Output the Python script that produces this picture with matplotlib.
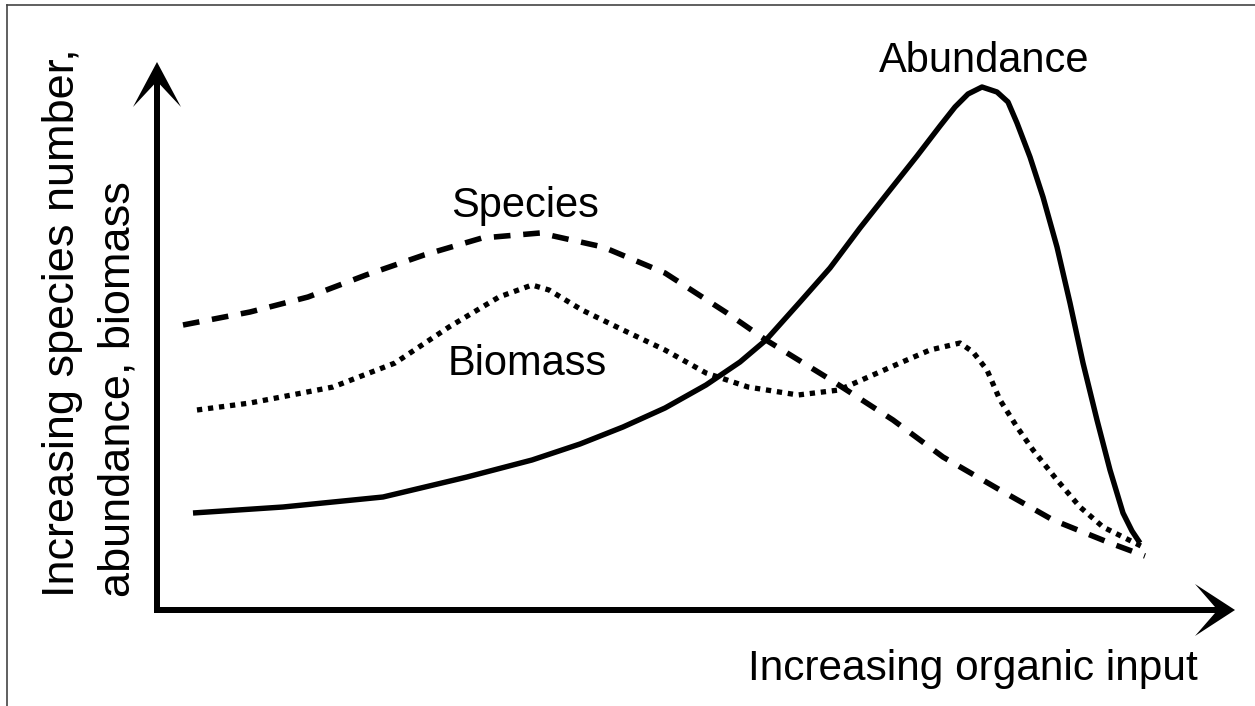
import matplotlib.pyplot as plt
from matplotlib.lines import Line2D

plt.rcParams['font.family'] = ['Liberation Sans', 'DejaVu Sans']

# organic input (arbitrary units) and the three responses
abundance_x = [0.36, 1.26, 2.26, 3.10, 3.75, 4.23, 4.66, 5.08, 5.49, 5.83, 6.09, 6.43,
               6.73, 7.03, 7.33, 7.60, 7.83, 7.98, 8.11, 8.25, 8.40, 8.51, 8.60, 8.73,
               8.86, 9.00, 9.13, 9.26, 9.40, 9.53, 9.66, 9.75, 9.83]
abundance_y = [1.94, 2.06, 2.26, 2.66, 3.00, 3.32, 3.66, 4.04, 4.50, 4.96, 5.40, 6.16,
               6.84, 7.64, 8.40, 9.08, 9.68, 10.06, 10.32, 10.46, 10.36, 10.16, 9.74, 9.06,
               8.26, 7.26, 6.14, 4.94, 3.80, 2.80, 1.94, 1.58, 1.34]

species_x = [0.26, 0.93, 1.51, 2.09, 2.67, 3.25, 3.83, 4.46, 5.08, 5.70, 6.09, 6.74,
             7.36, 7.86, 8.43, 8.96, 9.53, 9.88]
species_y = [5.70, 5.96, 6.26, 6.70, 7.10, 7.44, 7.54, 7.26, 6.74, 5.94, 5.40, 4.60,
             3.80, 3.06, 2.40, 1.80, 1.34, 1.08]

biomass_x = [0.40, 0.93, 1.76, 2.38, 2.92, 3.42, 3.75, 3.92, 4.25, 4.66, 5.08, 5.49,
             5.91, 6.41, 6.82, 7.43, 7.73, 8.03, 8.16, 8.30, 8.43, 8.60, 8.76, 9.00,
             9.23, 9.46, 9.66, 9.86]
biomass_y = [4.00, 4.14, 4.46, 4.94, 5.66, 6.26, 6.50, 6.40, 6.00, 5.60, 5.20, 4.74,
             4.46, 4.30, 4.40, 4.94, 5.20, 5.34, 5.16, 4.80, 4.20, 3.66, 3.20, 2.60,
             2.06, 1.66, 1.46, 1.26]

fig = plt.figure(figsize=(12.55, 7.06), dpi=100)
ax = fig.add_axes([0, 0, 1, 1])
ax.set_xlim(-1.57, 10.98)
ax.set_ylim(-1.92, 12.2)
ax.axis('off')

ax.plot(abundance_x, abundance_y, color='black', lw=3.9, solid_capstyle='butt',
        solid_joinstyle='round')
ax.plot(species_x, species_y, color='black', lw=4.0, linestyle=(0, (3.0, 2.3)),
        dash_capstyle='butt')
ax.plot(biomass_x, biomass_y, color='black', lw=3.8, linestyle=(0, (1.0, 1.1)),
        dash_capstyle='butt')

# axes drawn as barbed arrows
ax.arrow(0, -0.06, 0, 11.02, width=0.06, head_width=0.48, head_length=0.9,
         overhang=0.5, length_includes_head=True, color='black', lw=0)
ax.arrow(-0.03, 0, 10.81, 0, width=0.12, head_width=1.04, head_length=0.40,
         overhang=0.5, length_includes_head=True, color='black', lw=0)

fs = 30
ax.text(8.27, 10.76, 'Abundance', fontsize=fs, ha='center', va='baseline')
ax.text(3.68, 7.86, 'Species', fontsize=fs, ha='center', va='baseline')
ax.text(3.70, 4.70, 'Biomass', fontsize=fs, ha='center', va='baseline')
ax.text(8.16, -1.40, 'Increasing organic input', fontsize=30.5, ha='center', va='baseline')

ax.text(-0.83, 0.26, 'Increasing species number,', fontsize=32.5, rotation=90,
        rotation_mode='anchor', ha='left', va='baseline')
ax.text(-0.28, 0.26, 'abundance, biomass', fontsize=32.5, rotation=90,
        rotation_mode='anchor', ha='left', va='baseline')

# frame edges along the top and left
fig.add_artist(Line2D([7 / 1255, 1], [1 - 5 / 706, 1 - 5 / 706], color='#444444', lw=1.2))
fig.add_artist(Line2D([7 / 1255, 7 / 1255], [0, 1 - 5 / 706], color='#444444', lw=1.2))

fig.savefig('out.png', dpi=100)
